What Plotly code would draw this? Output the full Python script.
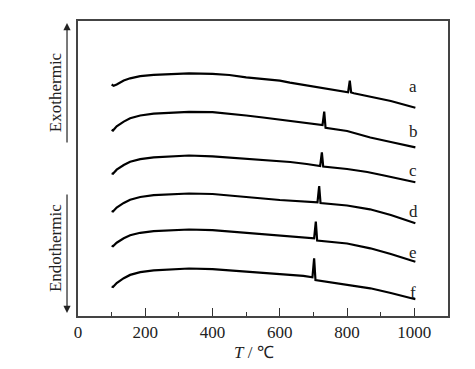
import plotly.graph_objects as go

# DTA curves (temperature in °C, heat flow in arbitrary units)
T_a = [100,106,115,125,136,155,185,225,265,330,400,450,500,550,600,630,700,760,803,808,812,820,870,930,1003]
H_a = [231.5,230.2,231.5,233.5,235.5,237.7,239.8,241.2,242,242.7,242.2,241,238.7,237,235.3,233.3,229.5,226.5,223.7,235.3,223.5,222.7,219.5,215,208.3]

T_b = [100,104,115,125,136,155,185,225,265,330,400,450,500,550,600,631,680,727,732,736,800,869,930,1003]
H_b = [186.3,185.5,189.7,192,194.4,197.7,200.5,202.3,203.2,204.2,203.8,202.5,200.5,198.5,196.5,195,193,191,204.3,188.2,185,178.5,174,168.7]

T_c = [100,104,115,125,136,155,185,225,265,330,400,450,500,550,600,631,680,720,725,729,800,860,910,960,1003]
H_c = [142.7,142.2,146.3,148.6,151,154.2,156.9,158.7,159.6,160.5,159.7,158.5,157,155.8,154.5,154,152,150,163.7,149.5,147,144,140.5,137,133.7]

T_d = [100,104,115,125,136,155,185,225,265,330,400,450,500,550,600,631,680,712,717,721,800,868,930,1003]
H_d = [105,104.5,108.5,110.8,113.1,116.3,119,120.8,121.6,122.5,122,120.7,119,117.5,116,115.3,114.5,113.7,130,113,110.5,106.7,101,92.7]

T_e = [100,104,115,125,136,155,185,225,265,330,400,450,500,550,600,631,670,702,707,711,800,869,930,1003]
H_e = [70.3,69.8,73.3,75.5,77.7,80.7,83.2,84.9,85.7,86.5,85.8,84.5,83,81.5,80,79.7,78.7,77.7,94.3,75.5,72.5,67.7,62,54.3]

T_f = [100,104,115,125,136,155,185,225,265,330,400,450,500,550,600,631,670,697,702,706,800,869,930,1003]
H_f = [29.5,29,33,35.4,37.8,41.1,43.8,45.7,46.6,47.5,46.8,45.7,44.5,43.3,42,41.7,40.2,38.7,57.7,36,31.5,27.7,23,16.7]

curve_labels = ["a", "b", "c", "d", "e", "f"]
label_T = [997, 997, 997, 997, 997, 997]
label_H = [230, 185, 146, 105, 64, 24]

x_ticks = [0, 200, 400, 600, 800, 1000]

SERIF = "Liberation Serif, Times New Roman, serif"

fig = go.Figure()
for T, H, name in zip([T_a, T_b, T_c, T_d, T_e, T_f],
                      [H_a, H_b, H_c, H_d, H_e, H_f], curve_labels):
    fig.add_trace(go.Scatter(x=T, y=H, mode="lines", name=name,
                             line=dict(color="black", width=2.2),
                             showlegend=False))

for lab, xt, yt in zip(curve_labels, label_T, label_H):
    fig.add_annotation(x=xt, y=yt, xref="x", yref="y", text=lab,
                       showarrow=False, xanchor="center", yanchor="middle",
                       font=dict(family=SERIF, size=17, color="#222"))

# Axis title
fig.add_annotation(x=0.475, y=-0.125, xref="paper", yref="paper",
                   text="<i>T</i> / ℃", showarrow=False,
                   xanchor="center", yanchor="middle",
                   font=dict(family=SERIF, size=17, color="#222"))

# Exo / Endo arrows and texts
fig.add_annotation(x=-0.0297, y=0.993, xref="paper", yref="paper",
                   ax=0, ay=121, axref="pixel", ayref="pixel", text="",
                   showarrow=True, arrowhead=2, arrowsize=1.2, arrowwidth=1.2,
                   arrowcolor="#222")
fig.add_annotation(x=-0.0297, y=0.0102, xref="paper", yref="paper",
                   ax=0, ay=-120, axref="pixel", ayref="pixel", text="",
                   showarrow=True, arrowhead=2, arrowsize=1.2, arrowwidth=1.2,
                   arrowcolor="#222")
fig.add_annotation(x=-0.062, y=0.759, xref="paper", yref="paper",
                   text="Exothermic", textangle=-90, showarrow=False,
                   xanchor="center", yanchor="middle",
                   font=dict(family=SERIF, size=17, color="#222"))
fig.add_annotation(x=-0.062, y=0.2305, xref="paper", yref="paper",
                   text="Endothermic", textangle=-90, showarrow=False,
                   xanchor="center", yanchor="middle",
                   font=dict(family=SERIF, size=17, color="#222"))

fig.update_layout(
    width=467, height=361,
    margin=dict(l=70, r=27, t=13, b=53),
    paper_bgcolor="white", plot_bgcolor="white",
    xaxis=dict(range=[0, 1100], tickvals=x_ticks, ticks="inside", ticklen=8,
               tickwidth=1.2, tickcolor="#333",
               showline=True, mirror=True, linecolor="#444", linewidth=1.5,
               showgrid=False, zeroline=False,
               tickfont=dict(family=SERIF, size=17, color="#222"),
               minor=dict(dtick=100, tick0=0, ticks="inside", ticklen=4,
                          tickwidth=1.2, tickcolor="#333", showgrid=False)),
    yaxis=dict(range=[0, 295], showticklabels=False, ticks="",
               showline=True, mirror=True, linecolor="#444", linewidth=1.5,
               showgrid=False, zeroline=False),
)

fig.write_html("out.html")
